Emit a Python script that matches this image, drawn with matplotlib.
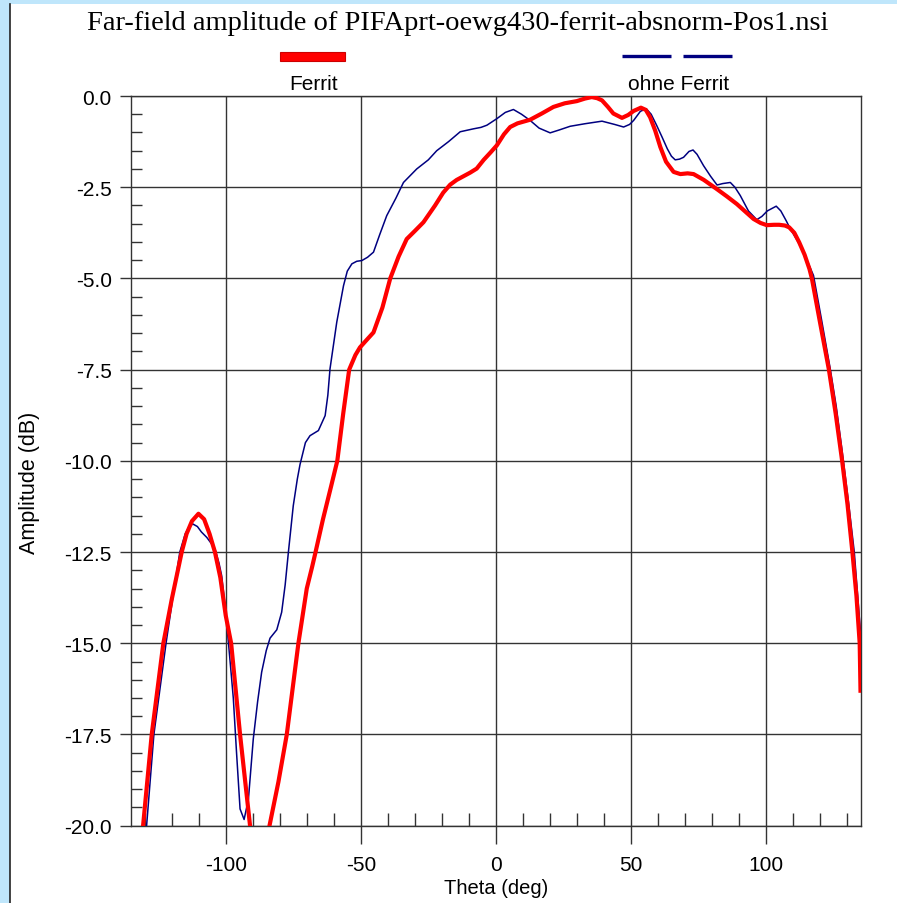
import matplotlib
matplotlib.use("Agg")
import matplotlib.pyplot as plt
from matplotlib.lines import Line2D
from matplotlib.patches import Rectangle

plt.rcParams["axes.unicode_minus"] = False

title = "Far-field amplitude of PIFAprt-oewg430-ferrit-absnorm-Pos1.nsi"
series_names = ["Ferrit", "ohne Ferrit"]
x_label = "Theta (deg)"
y_label = "Amplitude (dB)"

theta_ferrit = [-131.5, -130.6, -127.4, -123.1, -120.0, -116.3, -114.5, -112.5, -110.1, -108.0,
                -106.0, -104.0, -102.0, -100.0, -98.0, -94.7, -91.0, -87.5, -83.8, -80.5,
                -77.4, -73.1, -70.0, -68.0, -66.9, -64.0, -61.0, -58.7, -56.5, -54.3,
                -52.0, -50.3, -48.0, -45.3, -42.0, -39.1, -36.0, -33.0, -30.0, -26.8,
                -22.5, -19.5, -16.9, -14.5, -12.0, -9.5, -7.1, -4.5, -2.0, 0.4,
                3.0, 5.3, 8.0, 12.7, 17.0, 21.3, 25.5, 30.0, 33.0, 35.5,
                37.5, 39.3, 41.5, 43.5, 46.7, 49.0, 51.0, 53.7, 55.5, 57.1,
                59.0, 60.9, 63.0, 65.8, 68.3, 71.0, 73.2, 77.0, 81.8, 85.5,
                89.2, 95.4, 98.0, 100.3, 103.0, 104.9, 107.0, 108.6, 110.5, 112.3,
                114.3, 116.1, 117.0, 120.0, 123.3, 125.8, 128.2, 130.2, 132.0, 133.5,
                134.7, 135.0]
amp_ferrit = [-20.7, -20.0, -17.5, -15.0, -13.8, -12.5, -12.0, -11.65, -11.45, -11.6,
              -12.0, -12.5, -13.2, -14.24, -15.0, -17.5, -20.0, -23.0, -20.0, -18.8,
              -17.5, -15.0, -13.5, -12.9, -12.55, -11.6, -10.7, -10.0, -8.7, -7.5,
              -7.1, -6.89, -6.7, -6.48, -5.8, -5.0, -4.4, -3.92, -3.7, -3.46,
              -3.0, -2.65, -2.43, -2.3, -2.2, -2.1, -1.99, -1.75, -1.55, -1.35,
              -1.05, -0.85, -0.75, -0.65, -0.48, -0.30, -0.2, -0.14, -0.07, -0.03,
              -0.06, -0.12, -0.3, -0.48, -0.60, -0.52, -0.41, -0.32, -0.38, -0.58,
              -0.95, -1.40, -1.8, -2.08, -2.14, -2.12, -2.14, -2.3, -2.55, -2.75,
              -2.96, -3.37, -3.48, -3.54, -3.53, -3.53, -3.55, -3.6, -3.75, -4.01,
              -4.35, -4.74, -5.0, -6.2, -7.5, -8.7, -10.0, -11.2, -12.5, -13.7,
              -15.0, -16.3]

theta_ohne = [-130.5, -129.3, -126.6, -122.1, -119.5, -117.0, -115.0, -113.5, -112.2, -110.5,
              -109.0, -107.0, -105.5, -104.0, -102.5, -101.5, -100.0, -98.5, -97.2, -96.0,
              -94.7, -93.2, -91.6, -89.8, -88.2, -86.7, -85.0, -83.6, -81.1, -79.3,
              -78.0, -76.8, -75.0, -73.5, -72.5, -70.5, -68.8, -65.7, -63.2, -62.2,
              -61.4, -58.9, -56.4, -55.0, -53.3, -51.5, -49.6, -47.5, -45.3, -43.0,
              -40.4, -37.0, -34.2, -29.3, -25.0, -21.9, -17.5, -13.2, -8.3, -5.5,
              -3.3, 0.4, 3.5, 6.5, 9.5, 12.7, 16.0, 20.1, 23.5, 27.5,
              33.0, 39.3, 44.0, 47.3, 49.5, 51.0, 53.5, 55.7, 57.5, 59.5,
              61.5, 63.5, 65.0, 66.4, 68.0, 69.5, 71.5, 73.0, 74.5, 76.9,
              79.5, 81.9, 84.0, 86.8, 88.5, 90.5, 93.5, 96.6, 98.5, 100.5,
              103.8, 105.5, 107.5, 109.0, 111.5, 113.9, 117.6, 120.5, 123.8, 126.0,
              128.1, 130.5, 132.7, 135.0]
amp_ohne = [-21.0, -20.0, -17.5, -15.0, -13.7, -12.5, -12.0, -11.8, -11.73, -11.8,
            -11.95, -12.1, -12.25, -12.41, -12.8, -13.15, -14.15, -15.4, -16.5, -18.0,
            -19.54, -19.83, -19.27, -17.62, -16.6, -15.79, -15.2, -14.86, -14.63, -14.15,
            -13.4, -12.5, -11.23, -10.5, -10.1, -9.5, -9.31, -9.17, -8.76, -8.2,
            -7.48, -6.2, -5.2, -4.8, -4.6, -4.53, -4.51, -4.42, -4.28, -3.8,
            -3.28, -2.8, -2.37, -2.0, -1.75, -1.5, -1.25, -0.98, -0.90, -0.86,
            -0.80, -0.62, -0.45, -0.37, -0.5, -0.67, -0.88, -1.01, -0.93, -0.83,
            -0.76, -0.69, -0.78, -0.85, -0.78, -0.67, -0.42, -0.35, -0.5, -0.8,
            -1.12, -1.45, -1.65, -1.75, -1.73, -1.68, -1.52, -1.48, -1.6, -1.91,
            -2.2, -2.44, -2.4, -2.37, -2.5, -2.73, -3.15, -3.39, -3.3, -3.15,
            -3.02, -3.15, -3.42, -3.64, -3.95, -4.28, -4.92, -6.1, -7.48, -8.5,
            -9.67, -11.1, -12.5, -14.7]

x_major = [-100, -50, 0, 50, 100]
y_major = [0.0, -2.5, -5.0, -7.5, -10.0, -12.5, -15.0, -17.5, -20.0]

W, H = 897, 904
fig = plt.figure(figsize=(W / 100, H / 100), dpi=100)
fig.patch.set_facecolor("#bfe6fb")
fig.add_artist(Rectangle((10 / W, 0), 1 - 10 / W, 1 - 5 / H, transform=fig.transFigure,
                         facecolor="white", edgecolor="none", zorder=-10))
fig.add_artist(Line2D([9.5 / W, 9.5 / W], [0, 1 - 5 / H], transform=fig.transFigure,
                      color="#222222", lw=1.2))

L, R, B, T = 131.2, 860.5, 826.7, 97.0
ax = fig.add_axes([L / W, 1 - B / H, (R - L) / W, (B - T) / H])
ax.set_xlim(-135, 135)
ax.set_ylim(-20, 0)

ax.plot(theta_ohne, amp_ohne, color="#000080", lw=1.1, zorder=3)
ax.plot(theta_ferrit, amp_ferrit, color="#ff0000", lw=3.0, zorder=4,
        solid_joinstyle="round")

for s in ax.spines.values():
    s.set_color("#333333")
    s.set_linewidth(1.0)

ax.set_xticks(x_major)
ax.set_xticks([v for v in range(-130, 140, 10) if v not in x_major], minor=True)
ax.set_yticks(y_major)
ax.set_yticks([v * 0.5 for v in range(-40, 1) if (v * 0.5) not in y_major], minor=True)
ax.set_yticklabels([f"{v:.1f}" for v in y_major])
ax.grid(True, which="major", color="#333333", lw=1.0)
ax.tick_params(axis="x", which="major", direction="out", length=13, width=1, color="#333333",
               pad=8, labelsize=15)
ax.tick_params(axis="x", which="minor", direction="in", length=9.5, width=1, color="#333333")
ax.tick_params(axis="y", which="major", direction="out", length=8, width=1, color="#333333",
               pad=6, labelsize=15)
ax.tick_params(axis="y", which="minor", direction="in", length=8, width=1, color="#333333")
for lab in ax.get_xticklabels() + ax.get_yticklabels():
    lab.set_fontfamily("Liberation Sans")

fig.text(496 / W, 1 - 889 / H, x_label, ha="center", va="center", fontsize=14.5,
         family="Liberation Sans")
fig.text(30 / W, 1 - 483 / H, y_label, ha="center", va="center", rotation=90, fontsize=15.5,
         family="Liberation Sans")
fig.text(458 / W, 1 - 24 / H, title, ha="center", va="center", fontsize=20.5,
         family="Liberation Serif")

# legend entries at quarter positions above the axes
ax_w = R - L
cx1 = L + 0.25 * ax_w
cx2 = L + 0.75 * ax_w
fig.add_artist(Rectangle(((cx1 - 34) / W, 1 - 62 / H), 65 / W, 9 / H, transform=fig.transFigure,
                         facecolor="#ff0000", edgecolor="#cc0000", lw=0.8))
fig.text(cx1 / W, 1 - 84 / H, series_names[0], ha="center", va="center", fontsize=15,
         family="Liberation Sans")
for a, b in [(-56.5, -7.5), (4.5, 53.5)]:
    fig.add_artist(Line2D([(cx2 + a) / W, (cx2 + b) / W], [1 - 57 / H, 1 - 57 / H],
                          transform=fig.transFigure, color="#000080", lw=2.4,
                          solid_capstyle="butt"))
fig.text(cx2 / W, 1 - 84 / H, series_names[1], ha="center", va="center", fontsize=15,
         family="Liberation Sans")

fig.savefig("out.png", dpi=100)
